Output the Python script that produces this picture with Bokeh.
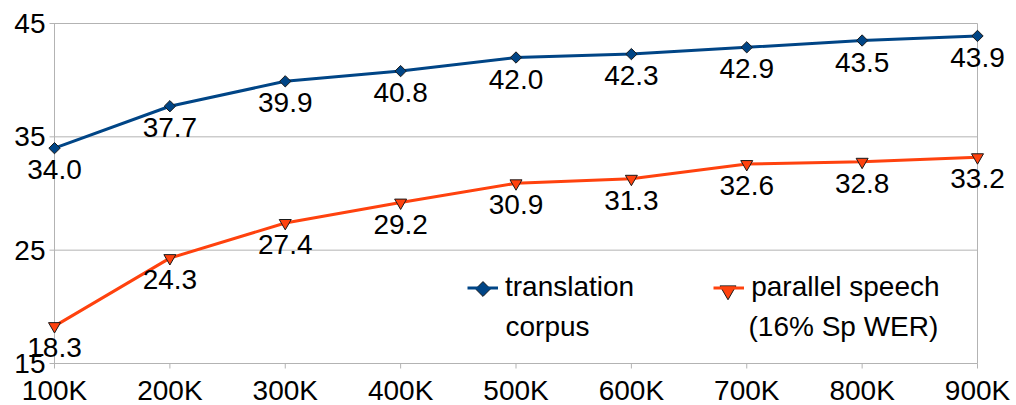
import math
from bokeh.plotting import figure
from bokeh.models import (ColumnDataSource, LabelSet, Label, Range1d, Legend, LegendItem)
from bokeh.core.properties import value
from bokeh.embed import file_html
from bokeh.resources import INLINE

# ---- data ----
sizes = [100, 200, 300, 400, 500, 600, 700, 800, 900]
size_labels = ["100K", "200K", "300K", "400K", "500K", "600K", "700K", "800K", "900K"]
translation_corpus = [34.0, 37.7, 39.9, 40.8, 42.0, 42.3, 42.9, 43.5, 43.9]
parallel_speech = [18.3, 24.3, 27.4, 29.2, 30.9, 31.3, 32.6, 32.8, 33.2]
y_ticks = [15, 25, 35, 45]
series_names = ["translation\ncorpus", "parallel speech\n(16% Sp WER)"]

BLUE = "#004586"
ORANGE = "#ff420e"
GRID = "#b3b3b3"
FONT = "Liberation Sans"
FS = "28px"

# ---- layout: plot area inside a full-canvas frame (so labels are not clipped) ----
W, H = 1016, 405
AREA_L, AREA_R, AREA_T, AREA_B = 54, 977, 23, 363
xmin, xmax = sizes[0], sizes[-1]
ymin, ymax = y_ticks[0], y_ticks[-1]
kx = (AREA_R - AREA_L) / (xmax - xmin)
ky = (AREA_B - AREA_T) / (ymax - ymin)
x_start = xmin - AREA_L / kx
x_end = xmax + (W - AREA_R) / kx
y_end = ymax + AREA_T / ky
y_start = ymin - (H - AREA_B) / ky


def px_x(px):
    return x_start + px / kx


def px_y(py):
    return y_end - py / ky


p = figure(width=W, height=H, output_backend="svg", toolbar_location=None,
           x_range=Range1d(x_start, x_end), y_range=Range1d(y_start, y_end),
           x_axis_location=None, y_axis_location=None,
           min_border=0, min_border_left=0, min_border_right=0,
           min_border_top=0, min_border_bottom=0)
p.outline_line_color = None
p.background_fill_color = "white"
p.border_fill_color = "white"
p.xgrid.visible = False
p.ygrid.visible = False

# horizontal grid lines (with tick stubs on the left)
p.segment(x0=[px_x(AREA_L - 5)] * len(y_ticks), x1=[xmax] * len(y_ticks),
          y0=y_ticks, y1=y_ticks, line_color=GRID, line_width=1)
# left axis line and right frame border
p.segment(x0=[xmin, xmax], x1=[xmin, xmax], y0=[ymin, ymin], y1=[ymax, ymax],
          line_color=GRID, line_width=1)
# x tick marks
p.segment(x0=sizes, x1=sizes, y0=[ymin] * len(sizes), y1=[px_y(AREA_B + 5)] * len(sizes),
          line_color=GRID, line_width=1)

# tick labels
p.text(x=[px_x(AREA_L - 9)] * len(y_ticks), y=y_ticks, text=[str(t) for t in y_ticks],
       text_align="right", text_baseline="middle", text_font=value(FONT),
       text_font_size=FS, text_color="black")
p.text(x=sizes, y=[px_y(AREA_B + 11)] * len(sizes), text=size_labels,
       text_align="center", text_baseline="top", text_font=value(FONT),
       text_font_size=FS, text_color="black")

src_a = ColumnDataSource(dict(x=sizes, y=translation_corpus,
                              t=[f"{v:.1f}" for v in translation_corpus]))
src_b = ColumnDataSource(dict(x=sizes, y=parallel_speech,
                              t=[f"{v:.1f}" for v in parallel_speech]))

la = p.line("x", "y", source=src_a, line_color=BLUE, line_width=3)
ma = p.scatter("x", "y", source=src_a, marker="square", angle=math.pi / 4, size=8,
               fill_color=BLUE, line_color="#1a1a1a", line_width=1)
lb = p.line("x", "y", source=src_b, line_color=ORANGE, line_width=3)
mb = p.scatter("x", "y", source=src_b, marker="inverted_triangle", size=12, fill_color=ORANGE,
               line_color="#1a1a1a", line_width=1)

for s in (src_a, src_b):
    p.add_layout(LabelSet(x="x", y="y", text="t", source=s, text_align="center",
                          text_baseline="top", y_offset=-12, text_font=value(FONT),
                          text_font_size=FS, text_color="black"))

first_lines = [n.split("\n")[0] for n in series_names]
second_lines = [n.split("\n")[1] for n in series_names]

legend = Legend(items=[LegendItem(label=first_lines[0], renderers=[la]),
                       LegendItem(label=first_lines[1], renderers=[lb])],
                orientation="horizontal", location=(467, 102),
                label_text_font=FONT, label_text_font_size=FS, label_text_color="black",
                glyph_width=31, glyph_height=27, label_standoff=7, spacing=79,
                padding=0, margin=0, border_line_color=None,
                background_fill_alpha=0)
p.add_layout(legend, "center")

# legend markers drawn on top of the legend's line swatches
p.scatter(x=[px_x(482.5)], y=[px_y(288.5)], marker="square", angle=math.pi / 4, size=10.5,
          fill_color=BLUE, line_color="#1a1a1a", line_width=1, level="overlay")
p.scatter(x=[px_x(727.5)], y=[px_y(290)], marker="inverted_triangle", size=16,
          fill_color=ORANGE, line_color="#1a1a1a", line_width=1, level="overlay")

for lx, txt in zip((505, 748), second_lines):
    p.add_layout(Label(x=lx, y=H - 326, x_units="screen", y_units="screen", text=txt,
                       text_font=FONT, text_font_size=FS, text_color="black",
                       text_baseline="alphabetic"))

open("out.html", "w").write(file_html(p, INLINE))
